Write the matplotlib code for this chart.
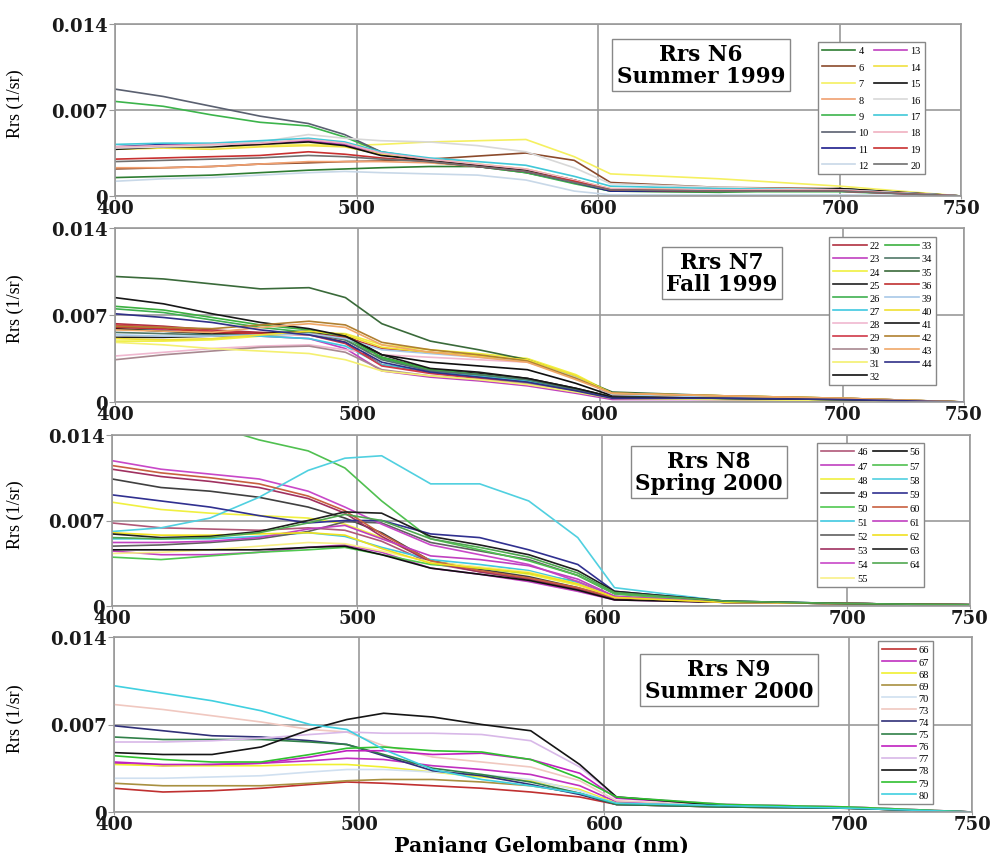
import numpy as np
import matplotlib.pyplot as plt

# wavelength grid (nm) at which Rrs was read, values below in 1e-3 1/sr
wl = [400, 420, 440, 460, 480, 495, 510, 530, 550, 570, 590, 605, 650, 700, 750]

# ---- N6 Summer 1999
n6_labels = ['4', '6', '7', '8', '9', '10', '11', '12', '13', '14', '15', '16', '17', '18', '19', '20']
n6_colors = ['#2e7d32', '#8b4a2b', '#f5f060', '#f0a070', '#3cb44b', '#5a6070', '#1c1c8c', '#c8d8e8',
             '#c040c0', '#f0e040', '#111111', '#d8d8d8', '#40c8d8', '#f0b0c0', '#c83030', '#707070']
n6_rrs = [
    [1.5, 1.6, 1.7, 1.9, 2.1, 2.2, 2.3, 2.4, 2.4, 1.9, 1.1, 0.4, 0.3, 0.6, 0.0],
    [2.2, 2.3, 2.4, 2.6, 2.7, 2.8, 2.85, 3.0, 3.25, 3.5, 2.9, 1.1, 0.7, 0.6, 0.0],
    [3.9, 4.0, 4.0, 4.1, 4.2, 4.1, 4.2, 4.4, 4.5, 4.6, 3.2, 1.8, 1.4, 0.8, 0.0],
    [2.3, 2.3, 2.4, 2.6, 2.8, 2.8, 2.8, 2.7, 2.4, 2.0, 1.2, 0.5, 0.4, 0.4, 0.0],
    [7.7, 7.3, 6.6, 6.0, 5.7, 4.8, 3.6, 2.8, 2.4, 1.9, 1.0, 0.4, 0.35, 0.35, 0.0],
    [8.7, 8.1, 7.3, 6.5, 5.9, 5.0, 3.6, 3.0, 2.5, 2.0, 1.2, 0.5, 0.5, 0.5, 0.0],
    [4.0, 4.2, 4.1, 4.3, 4.5, 4.2, 3.4, 2.9, 2.4, 2.0, 1.1, 0.4, 0.4, 0.5, 0.0],
    [1.2, 1.4, 1.5, 1.7, 1.9, 2.0, 1.9, 1.8, 1.7, 1.3, 0.4, 0.1, 0.1, 0.1, 0.0],
    [3.9, 4.1, 4.1, 4.2, 4.5, 4.2, 3.4, 3.0, 2.5, 2.1, 1.2, 0.5, 0.4, 0.4, 0.0],
    [3.8, 3.9, 3.8, 4.0, 4.1, 4.0, 3.4, 3.0, 2.6, 2.2, 1.3, 0.6, 0.5, 0.5, 0.0],
    [3.8, 4.0, 4.0, 4.2, 4.4, 4.1, 3.3, 2.9, 2.5, 2.1, 1.3, 0.5, 0.4, 0.6, 0.0],
    [3.9, 4.0, 4.1, 4.4, 5.0, 4.7, 4.5, 4.4, 4.1, 3.6, 2.3, 1.0, 0.7, 0.5, 0.0],
    [4.2, 4.3, 4.3, 4.5, 4.7, 4.4, 3.6, 3.1, 2.8, 2.5, 1.6, 0.8, 0.6, 0.5, 0.0],
    [4.0, 4.1, 4.2, 4.3, 4.6, 4.3, 3.5, 3.0, 2.6, 2.2, 1.3, 0.6, 0.5, 0.5, 0.0],
    [3.0, 3.1, 3.2, 3.3, 3.6, 3.4, 3.1, 2.8, 2.4, 2.0, 1.2, 0.5, 0.4, 0.4, 0.0],
    [2.8, 2.9, 3.0, 3.1, 3.3, 3.2, 3.0, 2.8, 2.4, 2.0, 1.1, 0.5, 0.4, 0.4, 0.0],
]

# ---- N7 Fall 1999
n7_labels = ['22', '23', '24', '25', '26', '27', '28', '29', '30', '31', '32',
             '33', '34', '35', '36', '39', '40', '41', '42', '43', '44']
n7_colors = ['#b03040', '#c040c0', '#f0f040', '#202020', '#40b050', '#40c8e0', '#f0b8d0', '#d03848',
             '#a88890', '#f4f070', '#101010', '#3cb040', '#507868', '#3a6a3a', '#c03030', '#a8c8e8',
             '#f0e030', '#181818', '#b08030', '#f0a868', '#303088']
n7_rrs = [
    [6.3, 6.1, 5.8, 5.6, 5.5, 4.8, 3.0, 2.4, 2.0, 1.6, 0.9, 0.3, 0.3, 0.2, 0.0],
    [6.1, 5.8, 5.5, 5.3, 5.1, 4.3, 2.5, 2.0, 1.7, 1.3, 0.7, 0.2, 0.2, 0.1, 0.0],
    [4.9, 4.9, 5.0, 5.3, 5.6, 5.5, 4.6, 4.2, 3.9, 3.5, 2.2, 0.7, 0.5, 0.3, 0.0],
    [5.2, 5.2, 5.3, 5.4, 5.6, 5.3, 3.6, 2.6, 2.3, 1.9, 1.1, 0.4, 0.3, 0.2, 0.0],
    [7.5, 7.2, 6.6, 6.0, 5.6, 5.0, 3.5, 2.6, 2.2, 1.7, 1.0, 0.4, 0.3, 0.2, 0.0],
    [5.9, 5.7, 5.5, 5.3, 5.1, 4.5, 3.0, 2.5, 2.1, 1.7, 1.0, 0.3, 0.3, 0.2, 0.0],
    [3.7, 4.0, 4.3, 4.5, 4.6, 4.2, 3.8, 3.6, 3.4, 3.2, 2.0, 0.6, 0.4, 0.3, 0.0],
    [6.2, 6.0, 5.7, 5.5, 5.4, 4.7, 2.9, 2.3, 1.9, 1.5, 0.9, 0.3, 0.3, 0.2, 0.0],
    [3.4, 3.8, 4.1, 4.4, 4.5, 4.0, 2.6, 2.1, 1.8, 1.5, 0.8, 0.3, 0.2, 0.1, 0.0],
    [4.8, 4.6, 4.3, 4.1, 3.9, 3.4, 2.5, 2.1, 1.8, 1.4, 0.8, 0.3, 0.2, 0.1, 0.0],
    [5.9, 5.7, 5.5, 5.5, 5.7, 5.4, 3.8, 3.2, 2.9, 2.6, 1.5, 0.5, 0.3, 0.2, 0.0],
    [7.7, 7.4, 6.8, 6.2, 5.8, 5.2, 3.6, 2.6, 2.2, 1.8, 1.0, 0.4, 0.3, 0.2, 0.0],
    [5.6, 5.5, 5.4, 5.4, 5.5, 5.0, 3.4, 2.5, 2.2, 1.8, 1.0, 0.4, 0.3, 0.2, 0.0],
    [10.1, 9.9, 9.5, 9.1, 9.2, 8.4, 6.3, 4.9, 4.2, 3.4, 2.0, 0.8, 0.5, 0.3, 0.0],
    [6.0, 5.9, 5.6, 5.5, 5.5, 5.2, 4.3, 4.0, 3.7, 3.3, 2.0, 0.6, 0.4, 0.3, 0.0],
    [5.4, 5.3, 5.3, 5.4, 5.5, 5.1, 4.2, 3.9, 3.6, 3.3, 2.0, 0.6, 0.4, 0.3, 0.0],
    [5.1, 5.0, 5.1, 5.4, 5.7, 5.4, 4.4, 4.0, 3.7, 3.4, 2.1, 0.7, 0.5, 0.3, 0.0],
    [8.4, 7.9, 7.1, 6.4, 5.9, 5.3, 3.8, 2.7, 2.4, 1.9, 1.1, 0.4, 0.3, 0.2, 0.0],
    [6.1, 6.0, 5.9, 6.2, 6.5, 6.2, 4.8, 4.2, 3.8, 3.3, 1.9, 0.7, 0.5, 0.3, 0.0],
    [5.8, 5.7, 5.6, 6.0, 6.3, 6.0, 4.6, 4.0, 3.6, 3.2, 1.8, 0.7, 0.5, 0.3, 0.0],
    [7.1, 6.8, 6.4, 5.8, 5.4, 4.8, 3.2, 2.4, 2.0, 1.6, 0.9, 0.3, 0.3, 0.2, 0.0],
]

# ---- N8 Spring 2000
n8_labels = ['46', '47', '48', '49', '50', '51', '52', '53', '54', '55',
             '56', '57', '58', '59', '60', '61', '62', '63', '64']
n8_colors = ['#b05878', '#c040c0', '#f0f040', '#404040', '#50c850', '#40c8e0', '#606060', '#a03060',
             '#c848c8', '#f8f088', '#101010', '#50c050', '#50d0e0', '#303090', '#c86040', '#c040c0',
             '#f0e020', '#202020', '#50a850']
n8_rrs = [
    [6.8, 6.4, 6.3, 6.2, 6.4, 6.2, 5.3, 3.5, 2.8, 2.2, 1.4, 0.6, 0.3, 0.2, 0.1],
    [4.5, 4.2, 4.2, 4.4, 4.8, 5.0, 4.4, 3.1, 2.6, 2.0, 1.2, 0.5, 0.3, 0.2, 0.1],
    [8.5, 7.9, 7.6, 7.4, 7.2, 6.7, 5.6, 3.7, 3.1, 2.6, 1.7, 0.7, 0.3, 0.2, 0.1],
    [10.4, 9.7, 9.4, 8.9, 8.1, 7.2, 6.0, 3.7, 3.0, 2.4, 1.5, 0.6, 0.3, 0.2, 0.1],
    [4.0, 3.8, 4.1, 4.4, 4.6, 4.8, 4.2, 3.4, 3.1, 2.7, 2.0, 0.8, 0.3, 0.2, 0.1],
    [5.5, 5.5, 5.5, 5.7, 6.0, 5.7, 4.8, 3.8, 3.4, 2.9, 1.9, 0.7, 0.3, 0.2, 0.1],
    [4.9, 5.0, 5.2, 5.5, 6.1, 6.9, 6.8, 5.2, 4.5, 3.8, 2.5, 1.0, 0.3, 0.2, 0.1],
    [11.2, 10.6, 10.2, 9.7, 8.8, 7.6, 5.7, 3.6, 2.8, 2.2, 1.4, 0.6, 0.3, 0.2, 0.1],
    [11.9, 11.2, 10.8, 10.4, 9.4, 8.1, 6.7, 5.0, 4.2, 3.4, 2.0, 0.7, 0.3, 0.2, 0.1],
    [4.3, 4.4, 4.6, 4.9, 5.2, 5.1, 4.5, 3.6, 3.2, 2.8, 1.8, 0.7, 0.3, 0.2, 0.1],
    [4.6, 4.6, 4.6, 4.6, 4.8, 4.9, 4.2, 3.1, 2.6, 2.1, 1.3, 0.5, 0.3, 0.2, 0.1],
    [17.0, 16.0, 14.8, 13.6, 12.7, 11.3, 8.6, 5.5, 4.6, 3.7, 2.5, 1.0, 0.3, 0.2, 0.1],
    [6.1, 6.4, 7.2, 8.9, 11.1, 12.1, 12.3, 10.0, 10.0, 8.6, 5.6, 1.5, 0.4, 0.2, 0.1],
    [9.1, 8.6, 8.1, 7.4, 6.8, 7.0, 7.0, 5.9, 5.6, 4.6, 3.4, 1.2, 0.4, 0.2, 0.1],
    [11.5, 10.9, 10.5, 10.0, 9.0, 7.8, 5.9, 3.7, 2.9, 2.3, 1.5, 0.7, 0.3, 0.2, 0.1],
    [5.2, 5.2, 5.3, 5.6, 6.3, 6.6, 5.5, 4.1, 3.8, 3.3, 2.2, 0.8, 0.3, 0.2, 0.1],
    [6.0, 5.8, 5.8, 5.9, 6.0, 5.8, 4.7, 3.5, 3.1, 2.7, 1.8, 0.7, 0.3, 0.2, 0.1],
    [5.9, 5.6, 5.7, 6.1, 7.0, 7.7, 7.6, 5.7, 5.0, 4.2, 2.9, 1.2, 0.4, 0.2, 0.1],
    [5.6, 5.5, 5.6, 6.0, 6.8, 7.5, 7.0, 5.5, 4.8, 4.0, 2.7, 1.1, 0.4, 0.2, 0.1],
]

# ---- N9 Summer 2000
n9_labels = ['66', '67', '68', '69', '70', '73', '74', '75', '76', '77', '78', '79', '80']
n9_colors = ['#c03030', '#c030c0', '#f0f030', '#a89040', '#d0e0f0', '#f0c8c0', '#303078',
             '#308048', '#c020c0', '#d8b8e8', '#151515', '#30c030', '#40d0e0']
n9_rrs = [
    [1.9, 1.6, 1.7, 1.9, 2.2, 2.4, 2.3, 2.1, 1.9, 1.6, 1.2, 0.6, 0.4, 0.3, 0.0],
    [3.9, 3.7, 3.8, 3.9, 4.1, 4.3, 4.2, 3.7, 3.4, 3.0, 2.1, 0.8, 0.5, 0.3, 0.0],
    [3.8, 3.7, 3.7, 3.7, 3.8, 3.8, 3.6, 3.2, 2.8, 2.5, 1.8, 0.7, 0.4, 0.3, 0.0],
    [2.3, 2.1, 2.1, 2.1, 2.3, 2.5, 2.6, 2.6, 2.4, 2.1, 1.5, 0.6, 0.4, 0.3, 0.0],
    [2.7, 2.7, 2.8, 2.9, 3.2, 3.4, 3.4, 3.2, 3.0, 2.6, 1.7, 0.6, 0.4, 0.3, 0.0],
    [8.6, 8.2, 7.7, 7.2, 6.6, 6.4, 5.3, 4.4, 4.0, 3.6, 2.5, 0.9, 0.5, 0.4, 0.0],
    [6.9, 6.5, 6.1, 6.0, 5.7, 5.4, 4.5, 3.3, 2.9, 2.2, 1.4, 0.6, 0.4, 0.3, 0.0],
    [6.0, 5.8, 5.8, 5.8, 5.6, 5.4, 4.6, 3.5, 3.0, 2.4, 1.5, 0.6, 0.4, 0.3, 0.0],
    [4.0, 3.8, 3.8, 3.9, 4.4, 4.9, 4.9, 4.6, 4.7, 4.2, 3.1, 1.1, 0.6, 0.4, 0.0],
    [5.6, 5.6, 5.7, 5.9, 6.2, 6.4, 6.3, 6.3, 6.2, 5.7, 3.6, 1.2, 0.6, 0.4, 0.0],
    [4.75, 4.6, 4.6, 5.2, 6.6, 7.4, 7.9, 7.6, 7.0, 6.5, 3.8, 1.2, 0.5, 0.3, 0.0],
    [4.5, 4.2, 4.0, 4.0, 4.6, 5.1, 5.2, 4.9, 4.8, 4.2, 2.7, 1.2, 0.6, 0.4, 0.0],
    [10.1, 9.5, 8.9, 8.1, 7.0, 6.6, 5.0, 3.4, 2.6, 2.1, 1.5, 0.7, 0.5, 0.3, 0.0],
]

titles = ['Rrs N6\nSummer 1999', 'Rrs N7\nFall 1999', 'Rrs N8\nSpring 2000', 'Rrs N9\nSummer 2000']

# panel boxes in pixels (left, top, right, bottom) on a 995x854 canvas
W, H = 995, 854
boxes = [(115, 25, 961, 197), (115, 229, 964, 403), (112, 436, 970, 607), (114, 638, 972, 813)]
title_pos = [(701, 66), (722, 274), (709, 473), (729, 681)]
leg_pos = [(818, 43), (829, 238), (817, 444), (878, 642)]
leg_ncol = [2, 2, 2, 1]
leg_space = [0.68, 0.36, 0.46, 0.27]

plt.rcParams['font.family'] = 'DejaVu Serif'
fig = plt.figure(figsize=(W / 100, H / 100), dpi=100)

data = [(n6_labels, n6_colors, n6_rrs), (n7_labels, n7_colors, n7_rrs),
        (n8_labels, n8_colors, n8_rrs), (n9_labels, n9_colors, n9_rrs)]

grey = '#9a9a9a'
for k, (labels, colors, rrs) in enumerate(data):
    l, t, r, b = boxes[k]
    ax = fig.add_axes([l / W, 1 - b / H, (r - l) / W, (b - t) / H])
    for lab, c, vals in zip(labels, colors, rrs):
        ax.plot(wl, np.array(vals) * 1e-3, color=c, lw=1.2, label=lab)

    ax.set_xlim(400, 750)
    ax.set_ylim(0, 0.014)
    ax.set_xticks([400, 500, 600, 700, 750])
    ax.set_xticklabels(['400', '500', '600', '700', '750'], fontweight='bold', fontsize=13)
    ax.set_yticks([0, 0.007, 0.014])
    ax.set_yticklabels(['0', '0.007', '0.014'], fontweight='bold', fontsize=13)
    ax.tick_params(axis='y', length=4, pad=1, color=grey, labelcolor='#1a1a1a')
    ax.tick_params(axis='x', length=2, pad=0.5, color=grey, labelcolor='#1a1a1a')
    ax.grid(True, color=grey, lw=1.2)
    ax.set_axisbelow(True)
    for s in ax.spines.values():
        s.set_color(grey)
        s.set_linewidth(1.2)

    ax.set_ylabel('Rrs (1/sr)', fontfamily='Liberation Serif', fontsize=13)
    ax.yaxis.set_label_coords((24 - l) / (r - l), 0.54)

    tx, ty = title_pos[k]
    ax.text((tx - l) / (r - l), (b - ty) / (b - t), titles[k], transform=ax.transAxes,
            ha='center', va='center', fontsize=15.5, fontweight='bold', linespacing=1.0,
            bbox=dict(boxstyle='square,pad=0.2', fc='white', ec='#888888', lw=1))

    lx, ly = leg_pos[k]
    leg = ax.legend(ncol=leg_ncol[k], loc='upper left',
                    bbox_to_anchor=((lx - l) / (r - l), (b - ly) / (b - t)),
                    borderaxespad=0, fancybox=False, framealpha=1, edgecolor='#888888',
                    prop={'family': 'Liberation Serif', 'size': 7.5},
                    handlelength=3.2, handletextpad=0.3, columnspacing=0.5,
                    labelspacing=leg_space[k], borderpad=0.4)
    leg.get_frame().set_linewidth(1)

fig.text(542 / W, 2 / H, 'Panjang Gelombang (nm)', ha='center', va='baseline',
         fontsize=14.8, fontweight='bold')

fig.savefig('out.png', dpi=100)
